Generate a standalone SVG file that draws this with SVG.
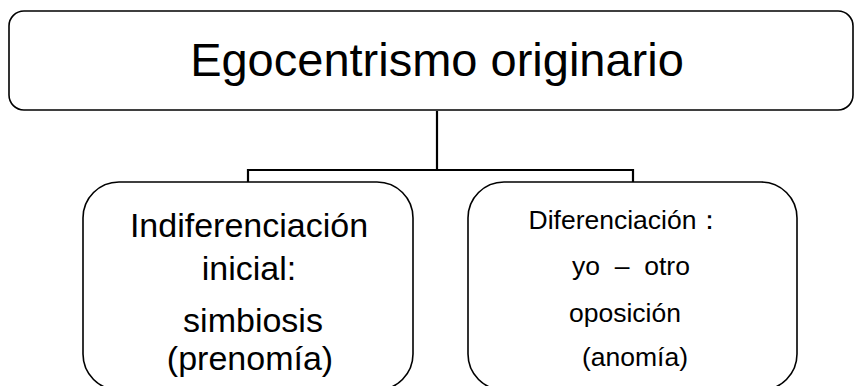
<svg xmlns="http://www.w3.org/2000/svg" width="857" height="386" viewBox="0 0 857 386">
<style>
.box{fill:#fff;stroke:#000;stroke-width:1.6}
.con{fill:none;stroke:#000;stroke-width:2.2}
text{font-family:"Liberation Sans",Arial,sans-serif;fill:#000;text-anchor:middle}
.t{font-size:47px}
.l{font-size:34px}
.r{font-size:26.5px}
</style>
<rect x="0" y="0" width="857" height="386" fill="#fff"/>
<g id="connectors">
<path class="con" d="M437 111 V170 M248 182 V170 H633 V182"/>
</g>
<g id="node-egocentrismo">
<rect class="box" x="9" y="11" width="844" height="99" rx="15" ry="15"/>
<text class="t" x="437" y="76">Egocentrismo originario</text>
</g>
<g id="node-indiferenciacion">
<rect class="box" x="83" y="182" width="330" height="208" rx="36" ry="36"/>
<text class="l" x="249" y="237">Indiferenciación</text>
<text class="l" x="249" y="280">inicial:</text>
<text class="l" x="253" y="332">simbiosis</text>
<text class="l" x="250" y="370">(prenomía)</text>
</g>
<g id="node-diferenciacion">
<rect class="box" x="468" y="182" width="329" height="208" rx="36" ry="36"/>
<text class="r" x="626" y="229">Diferenciación：</text>
<text class="r" x="631" y="275" xml:space="preserve">yo  –  otro</text>
<text class="r" x="625" y="322">oposición</text>
<text class="r" x="635" y="366">(anomía)</text>
</g>
</svg>
